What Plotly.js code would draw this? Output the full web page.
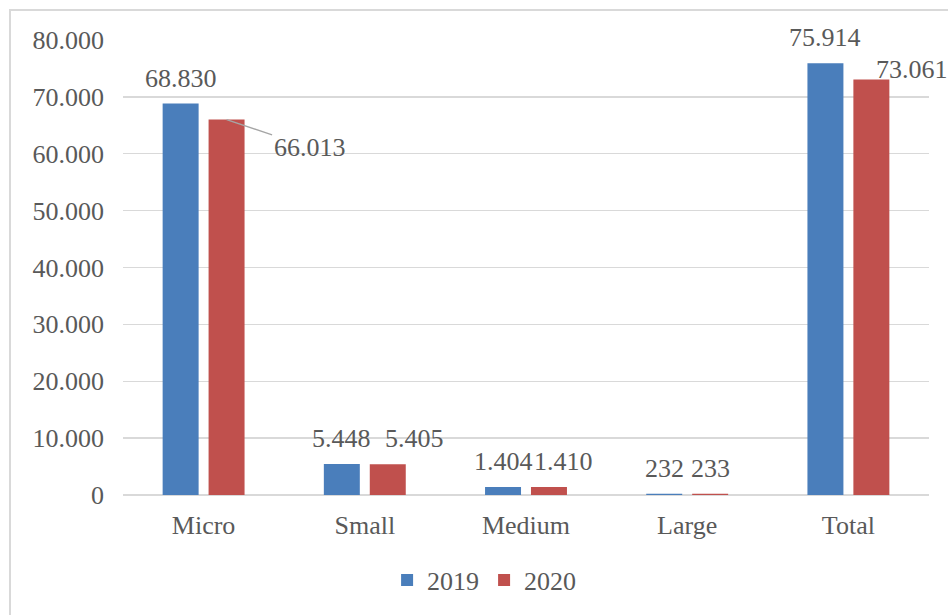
<!DOCTYPE html>
<html>
<head>
<meta charset="utf-8">
<script src="https://cdn.plot.ly/plotly-3.0.1.min.js"></script>
<style>
  html, body { margin: 0; padding: 0; background: #ffffff; overflow: hidden; width: 948px; height: 615px; }
  #wrap { position: absolute; left: 0; top: 0; width: 948px; height: 615px; overflow: hidden; }
  #frame { position: absolute; left: 9px; top: 9px; width: 960px; height: 620px;
           border: 2px solid #d9d9d9; box-sizing: border-box; }
  #chart { position: absolute; left: 0; top: 0; width: 948px; height: 615px; overflow: hidden; }
</style>
</head>
<body>
<div id="wrap"><div id="frame"></div><div id="chart"></div></div>
<script>
// ---- data ----
const categories = ["Micro", "Small", "Medium", "Large", "Total"];
const seriesNames = ["2019", "2020"];
const values2019 = [68830, 5448, 1404, 232, 75914];
const values2020 = [66013, 5405, 1410, 233, 73061];
const yTicks = [0, 10000, 20000, 30000, 40000, 50000, 60000, 70000, 80000];

// ---- styles ----
const FONT = "Liberation Serif";
const TXT = "#595959";
const COLORS = ["#4a7ebb", "#c0504d"];
const FS = 26;

function fmt(v) {
  return String(Math.round(v)).replace(/\B(?=(\d{3})+(?!\d))/g, ".");
}

const series = [values2019, values2020];
const traces = series.map((vals, i) => ({
  type: "bar",
  name: seriesNames[i],
  x: categories,
  y: vals,
  marker: { color: COLORS[i] },
  hoverinfo: "none"
}));

// data labels as annotations (bar centre offsets follow bargap settings)
const BAR_SHIFT = 23;
const annotations = [];
series.forEach((vals, i) => {
  vals.forEach((v, j) => {
    const a = {
      x: categories[j], y: v, xref: "x", yref: "y",
      text: fmt(v), showarrow: false,
      xanchor: "center", yanchor: "bottom",
      xshift: i === 0 ? -BAR_SHIFT : BAR_SHIFT,
      yshift: 9,
      font: { family: FONT, size: FS, color: TXT }
    };
    // labels that were moved by hand in the original
    if (i === 1 && j === 0) {
      Object.assign(a, {
        showarrow: true, arrowhead: 0, arrowwidth: 1.3, arrowcolor: "#a6a6a6",
        ax: 83, ay: 28, xanchor: "center", yanchor: "middle", yshift: 0
      });
    }
    if (i === 1 && j === 1) a.xshift = BAR_SHIFT + 27;
    if (i === 1 && j === 2) a.xshift = BAR_SHIFT + 14;
    if (i === 1 && j === 4) Object.assign(a, { xanchor: "left", xshift: BAR_SHIFT + 3, yshift: -7 });
    annotations.push(a);
  });
});

const layout = {
  width: 948, height: 615,
  margin: { l: 123, r: 19, t: 40, b: 120 },
  paper_bgcolor: "rgba(0,0,0,0)",
  plot_bgcolor: "rgba(0,0,0,0)",
  separators: ",.",
  font: { family: FONT, size: FS, color: TXT },
  barmode: "group",
  bargap: 0.43,
  bargroupgap: 0.217,
  showlegend: true,
  legend: {
    orientation: "h", x: 0.448, xanchor: "center", y: -0.187, yanchor: "middle",
    font: { family: FONT, size: FS, color: TXT }, traceorder: "normal"
  },
  xaxis: {
    type: "category", automargin: false,
    range: [-0.5, categories.length - 0.5], autorange: false,
    showgrid: false, zeroline: false, showline: false,
    ticks: "", ticklabelstandoff: 12,
    tickfont: { family: FONT, size: FS, color: TXT }
  },
  yaxis: {
    range: [0, 80000], autorange: false, automargin: false,
    tickmode: "array", tickvals: yTicks, ticktext: yTicks.map(fmt),
    showgrid: true, gridcolor: "#d9d9d9", gridwidth: 1.3,
    zeroline: true, zerolinecolor: "#d9d9d9", zerolinewidth: 1.5,
    showline: false, ticks: "", ticklabelstandoff: 18,
    tickfont: { family: FONT, size: FS, color: TXT }
  },
  annotations: annotations
};

Plotly.newPlot("chart", traces, layout, { staticPlot: true, displayModeBar: false });
</script>
</body>
</html>
